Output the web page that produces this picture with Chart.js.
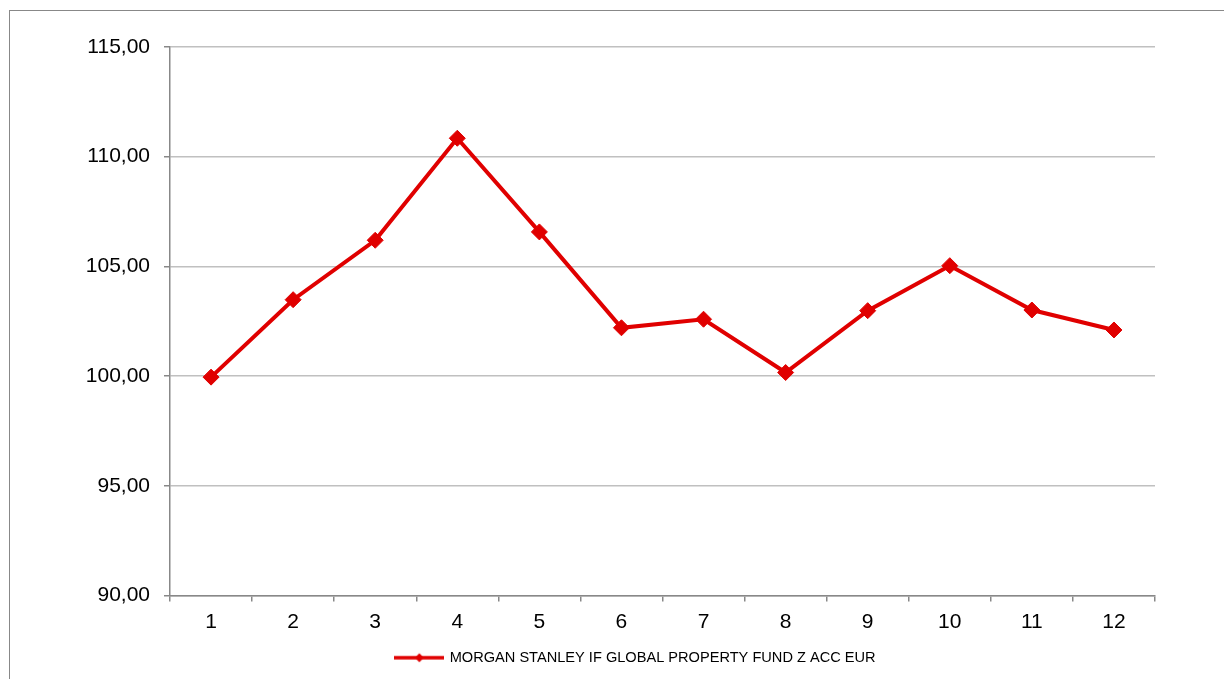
<!DOCTYPE html>
<html>
<head>
<meta charset="utf-8">
<script src="https://cdn.jsdelivr.net/npm/chart.js@4/dist/chart.umd.min.js"></script>
<style>
  html, body { margin: 0; padding: 0; background: #fff; overflow: hidden; }
  #frame {
    position: absolute; left: 9px; top: 10px;
    width: 1252px; height: 668px;
    border-left: 1.5px solid #888; border-top: 1.5px solid #888;
  }
</style>
</head>
<body>
<div id="frame"><canvas id="chart"></canvas></div>
<script>
// data
const months = ['1', '2', '3', '4', '5', '6', '7', '8', '9', '10', '11', '12'];
const fundValues = [99.95, 103.48, 106.19, 110.84, 106.57, 102.20, 102.59, 100.16, 102.98, 105.03, 103.01, 102.10];
const fundName = 'MORGAN STANLEY IF GLOBAL PROPERTY FUND Z ACC EUR';
const yTicks = [90, 95, 100, 105, 110, 115];

const red = '#e00000';
const font = "'Liberation Sans', Arial, sans-serif";

// legend icon: line with a diamond, like the spreadsheet legend
const icon = document.createElement('canvas');
icon.width = 50;
icon.height = 14;
const ic = icon.getContext('2d');
ic.strokeStyle = red;
ic.lineWidth = 3.5;
ic.beginPath();
ic.moveTo(0, 7);
ic.lineTo(50, 7);
ic.stroke();
ic.fillStyle = red;
ic.beginPath();
ic.moveTo(25, 2.5);
ic.lineTo(29.5, 7);
ic.lineTo(25, 11.5);
ic.lineTo(20.5, 7);
ic.closePath();
ic.fill();

const ctx = document.getElementById('chart');
new Chart(ctx, {
  type: 'line',
  data: {
    labels: months,
    datasets: [{
      label: fundName,
      data: fundValues,
      borderColor: red,
      backgroundColor: red,
      borderWidth: 4,
      pointStyle: 'rectRot',
      pointRadius: 8,
      pointBackgroundColor: red,
      pointBorderColor: red,
      pointBorderWidth: 1,
      tension: 0,
      clip: false
    }]
  },
  options: {
    responsive: true,
    maintainAspectRatio: false,
    animation: false,
    layout: { padding: { top: 36, left: 0, right: 0, bottom: 4 } },
    plugins: {
      tooltip: { enabled: false },
      legend: {
        position: 'bottom',
        labels: {
          usePointStyle: true,
          pointStyle: icon,
          pointStyleWidth: 46,
          color: '#000',
          padding: 10,
          font: { family: font, size: 14.6 }
        }
      }
    },
    scales: {
      x: {
        offset: true,
        grid: {
          offset: true,
          drawOnChartArea: false,
          color: '#888',
          lineWidth: 1.5,
          tickLength: 6
        },
        border: { color: '#888', width: 1.5 },
        ticks: {
          color: '#000',
          padding: 8,
          maxRotation: 0,
          font: { family: font, size: 21 }
        },
        afterFit: (s) => { s.height = 45; }
      },
      y: {
        min: 90,
        max: 115,
        afterBuildTicks: (s) => { s.ticks = yTicks.map(v => ({ value: v })); },
        grid: {
          color: '#c0c0c0',
          lineWidth: 1.5,
          tickColor: '#888',
          tickLength: 6
        },
        border: { color: '#888', width: 1.5 },
        ticks: {
          color: '#000',
          padding: 14,
          font: { family: font, size: 21 },
          callback: (v) => Number(v).toFixed(2).replace('.', ',')
        },
        afterFit: (s) => { s.width = 160; }
      },
      // empty right axis keeps the plot narrower while the legend stays centred on the frame
      yRight: {
        position: 'right',
        display: true,
        grid: { display: false },
        border: { display: false },
        ticks: { display: false },
        afterFit: (s) => { s.width = 107; }
      }
    }
  }
});
</script>
</body>
</html>
